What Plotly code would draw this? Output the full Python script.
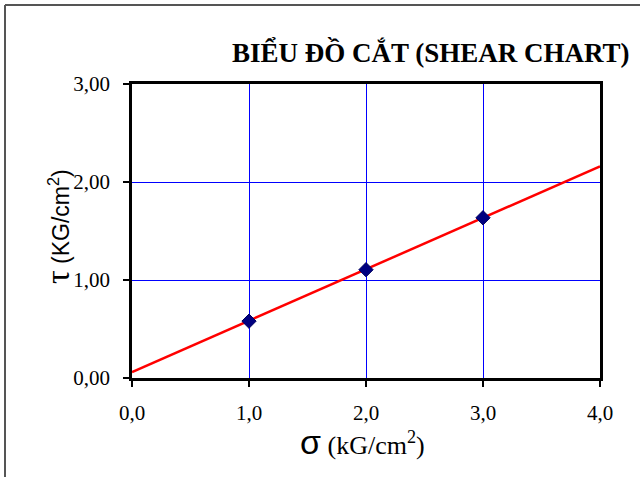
import plotly.graph_objects as go

# data
sigma = [1.0, 2.0, 3.0]
tau = [0.58, 1.105, 1.635]
fit_x = [0.0, 4.0]
fit_y = [0.06, 2.16]
x_ticks = [0, 1, 2, 3, 4]
x_labels = ["0,0", "1,0", "2,0", "3,0", "4,0"]
y_ticks = [0, 1, 2, 3]
y_labels = ["0,00", "1,00", "2,00", "3,00"]

W, H = 640, 477
L, R, T, B = 132, 40, 84, 99
pw, ph = W - L - R, H - T - B

def px(x):
    return (x - L) / pw

def py(y):
    return (H - B - y) / ph

fig = go.Figure()
fig.add_trace(go.Scatter(x=fit_x, y=fit_y, mode="lines",
                         line=dict(color="#ff0000", width=2.5), showlegend=False))
fig.add_trace(go.Scatter(x=sigma, y=tau, mode="markers",
                         marker=dict(symbol="diamond", size=11, color="#000080",
                                     line=dict(color="#000060", width=1)),
                         showlegend=False))

serif = "Liberation Serif, Times New Roman, serif"
fig.update_layout(
    width=W, height=H,
    margin=dict(l=L, r=R, t=T, b=B),
    paper_bgcolor="white", plot_bgcolor="white",
    font=dict(family=serif, color="black", size=21),
    xaxis=dict(range=[0, 4], tickvals=x_ticks, ticktext=x_labels,
               showgrid=True, gridcolor="#0000ff", gridwidth=1,
               showline=True, linecolor="black", linewidth=2.5, mirror=True,
               ticks="outside", ticklen=6, tickcolor="black", tickwidth=1.5,
               zeroline=False, ticklabelstandoff=8,
               tickfont=dict(family=serif, size=21, color="black")),
    yaxis=dict(range=[0, 3], tickvals=y_ticks, ticktext=y_labels,
               showgrid=True, gridcolor="#0000ff", gridwidth=1,
               showline=True, linecolor="black", linewidth=2.5, mirror=True,
               ticks="outside", ticklen=6, tickcolor="black", tickwidth=1.5,
               zeroline=False, ticklabelstandoff=9,
               tickfont=dict(family=serif, size=21, color="black")),
)

fig.add_annotation(text="<b>BIỂU ĐỒ CẮT (SHEAR CHART)</b>", xref="paper", yref="paper",
                   x=px(431), y=py(52), showarrow=False,
                   font=dict(family=serif, size=27, color="black"),
                   xanchor="center", yanchor="middle")
fig.add_annotation(text="<span style='font-family:Liberation Serif;font-size:34px'>τ</span>"
                        "<span style='font-family:Liberation Sans, Arial'> (KG/cm<sup>2</sup>)</span>",
                   xref="paper", yref="paper", x=px(57), y=py(227), textangle=-90,
                   showarrow=False, font=dict(family="Liberation Sans, Arial", size=23, color="black"),
                   xanchor="center", yanchor="middle")
fig.add_annotation(text="<span style='font-family:Liberation Sans;font-size:34px'>σ</span> (kG/cm<sup>2</sup>)",
                   xref="paper", yref="paper", x=px(362), y=py(442),
                   showarrow=False, font=dict(family=serif, size=26, color="black"),
                   xanchor="center", yanchor="middle")

# outer frame
fig.add_shape(type="line", xref="paper", yref="paper", x0=px(5), x1=px(5), y0=py(5), y1=py(490),
              line=dict(color="#555555", width=2))
fig.add_shape(type="line", xref="paper", yref="paper", x0=px(5), x1=px(650), y0=py(5), y1=py(5),
              line=dict(color="#555555", width=2))

fig.write_html("out.html", config={"displayModeBar": False},
               post_script="document.body.style.margin='0';document.body.style.overflow='hidden';")
